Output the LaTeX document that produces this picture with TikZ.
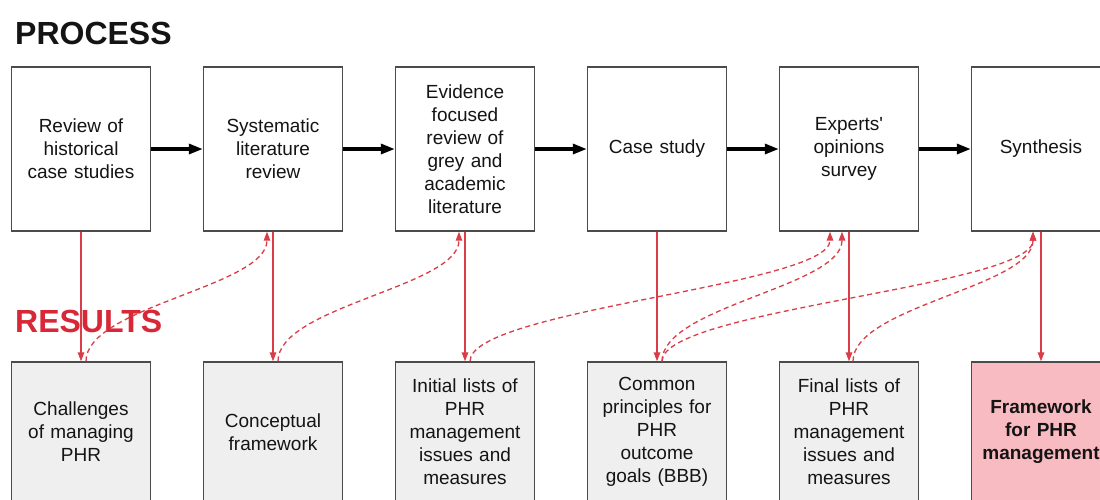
\documentclass[tikz,border=0pt]{standalone}
\usepackage{fontspec}
\setmainfont{Liberation Sans}
\usetikzlibrary{arrows.meta}
\definecolor{phrred}{RGB}{216,40,56}
\definecolor{linered}{RGB}{218,60,72}
\definecolor{boxgray}{RGB}{239,239,239}
\definecolor{boxpink}{RGB}{248,187,193}
\definecolor{edgegray}{RGB}{75,75,75}
\definecolor{inkk}{RGB}{20,20,20}
\begin{document}
\begin{tikzpicture}[x=1pt,y=-1pt,
  procbox/.style={draw=edgegray, line width=1.4pt, fill=white, minimum width=139pt, minimum height=164pt, align=center, inner sep=0pt, text width=132pt, text=inkk, font=\fontsize{19}{23}\selectfont},
  resbox/.style={procbox, fill=boxgray, minimum height=140pt},
  finalbox/.style={resbox, fill=boxpink, font=\fontsize{19}{23}\selectfont\bfseries},
  flow/.style={draw=black, line width=3.2pt, -{Triangle[length=14pt,width=10pt]}},
  downarrow/.style={draw=linered, line width=1.3pt, -{Triangle[length=9pt,width=6.5pt]}},
  feedback/.style={draw=linered, line width=1.3pt, dash pattern=on 5pt off 3.5pt, -{Triangle[length=9pt,width=6.5pt]}},
  heading/.style={font=\fontsize{32}{36}\selectfont\bfseries, anchor=base west, inner sep=0pt}
]
\useasboundingbox[fill=white] (0,0) rectangle (1100,499);

\node[heading, text=inkk] (proc) at (15,44) {PROCESS};
\node[heading, text=phrred] (res) at (15,332) {RESULTS};

% process boxes
\node[procbox] (p1) at (81,149) {Review of\\historical\\case studies};
\node[procbox] (p2) at (273,149) {Systematic\\literature\\review};
\node[procbox] (p3) at (465,149) {Evidence\\focused\\review of\\grey and\\academic\\literature};
\node[procbox] (p4) at (657,149) {Case study};
\node[procbox] (p5) at (849,149) {Experts\textquotesingle\\opinions\\survey};
\node[procbox] (p6) at (1041,149) {Synthesis};

% result boxes
\node[resbox] (r1) at (81,432) {Challenges\\of managing\\PHR};
\node[resbox] (r2) at (273,432) {Conceptual\\framework};
\node[resbox] (r3) at (465,432) {Initial lists of\\PHR\\management\\issues and\\measures};
\node[resbox] (r4) at (657,432) {Common\\principles for\\PHR\\outcome\\goals (BBB)};
\node[resbox] (r5) at (849,432) {Final lists of\\PHR\\management\\issues and\\measures};
\node[finalbox] (r6) at (1041,432) {Framework\\for PHR\\management};

% process flow
\draw[flow] (p1) -- (p2);
\draw[flow] (p2) -- (p3);
\draw[flow] (p3) -- (p4);
\draw[flow] (p4) -- (p5);
\draw[flow] (p5) -- (p6);

% outputs
\foreach \i in {1,...,6}{
  \draw[downarrow] (p\i.south) -- (r\i.north);
}

% feedback
\draw[feedback] ([xshift=5pt]r1.north) .. controls +(0,-55) and +(0,55) .. ([xshift=-6pt]p2.south);
\draw[feedback] ([xshift=5pt]r2.north) .. controls +(0,-55) and +(0,55) .. ([xshift=-6pt]p3.south);
\draw[feedback] ([xshift=5pt]r3.north) .. controls +(0,-52) and +(0,54) .. ([xshift=-19pt]p5.south);
\draw[feedback] ([xshift=5pt]r4.north) .. controls +(0,-55) and +(0,55) .. ([xshift=-7pt]p5.south);
\draw[feedback] ([xshift=5pt]r4.north) .. controls +(0,-52) and +(0,55) .. ([xshift=-8pt]p6.south);
\draw[feedback] ([xshift=4pt]r5.north) .. controls +(0,-55) and +(0,55) .. ([xshift=-8pt]p6.south);
\end{tikzpicture}
\end{document}
